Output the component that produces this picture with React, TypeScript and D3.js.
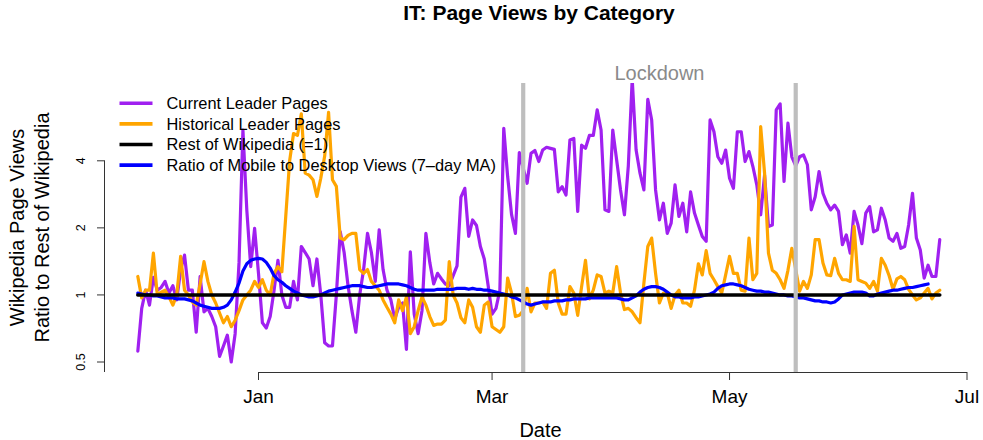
import React from "react";
import * as d3 from "d3";

// ---- data (daily, starting 2019-12-01) ----
const START_DATE = "2019-12-01";

const currentLeaderPages = [
  0.56, 0.87, 1.05, 0.90, 1.20, 1.05, 1.08, 1.15, 1.02, 1.10,
  0.95, 1.30, 1.51, 1.05, 1.05, 0.68, 1.21, 0.84, 0.87, 0.80,
  0.72, 0.53, 0.59, 0.66, 0.50, 0.67, 1.40, 5.50, 2.40, 1.34,
  1.99, 1.25, 0.75, 0.71, 0.80, 1.05, 1.43, 1.00, 0.88, 0.88,
  1.15, 0.95, 1.65, 1.55, 1.45, 1.10, 1.45, 1.00, 0.61, 0.59,
  0.59, 1.00, 1.92, 1.55, 1.10, 0.85, 0.68, 1.00, 1.30, 1.89,
  1.55, 1.15, 1.96, 1.30, 1.05, 0.95, 0.78, 0.88, 0.92, 0.57,
  1.56, 0.82, 0.67, 0.85, 1.89, 1.40, 1.12, 1.25, 1.18, 1.12,
  1.10, 1.22, 1.35, 2.75, 3.01, 1.83, 2.17, 2.05, 1.65, 1.45,
  1.10, 0.82, 0.87, 1.05, 5.60, 3.40, 2.30, 1.89, 4.35, 3.70,
  3.17, 4.32, 4.45, 3.97, 4.47, 4.60, 4.55, 4.50, 2.90, 3.06,
  2.81, 4.96, 5.04, 2.37, 4.70, 4.55, 5.20, 5.20, 6.77, 5.50,
  2.41, 2.37, 5.50, 4.03, 2.96, 2.29, 3.80, 9.30, 4.47, 3.52,
  2.96, 7.55, 6.10, 2.96, 2.17, 2.58, 1.89, 2.10, 3.12, 2.25,
  2.58, 1.92, 2.90, 2.33, 2.06, 1.83, 1.74, 6.10, 5.40, 4.17,
  3.90, 4.47, 3.34, 3.01, 5.40, 5.40, 3.97, 4.40, 3.77, 3.12,
  2.29, 3.45, 2.03, 2.06, 6.77, 7.20, 3.23, 5.90, 4.17, 3.80,
  4.17, 4.25, 3.84, 2.41, 2.76, 3.58, 2.86, 2.58, 2.41, 2.53,
  2.37, 1.68, 1.86, 1.54, 2.37, 2.06, 1.70, 2.33, 2.49, 1.92,
  1.96, 2.45, 2.17, 1.80, 1.74, 1.89, 1.62, 1.65, 2.06, 2.86,
  1.80, 1.59, 1.19, 1.36, 1.21, 1.21, 1.77,
];

const historicalLeaderPages = [
  1.21, 0.97, 1.05, 1.05, 1.54, 1.00, 1.03, 1.05, 0.98, 0.90,
  1.00, 1.49, 1.05, 1.00, 0.93, 0.90, 1.12, 1.41, 1.15, 1.00,
  0.92, 0.83, 0.75, 0.80, 0.72, 0.77, 0.85, 0.95, 1.00, 1.05,
  1.15, 1.08, 1.17, 1.05, 1.00, 1.25, 1.34, 1.27, 2.25, 4.00,
  5.30, 5.20, 6.50, 3.52, 3.45, 3.29, 2.77, 3.34, 4.20, 6.60,
  3.29, 3.07, 1.80, 1.77, 1.85, 1.89, 1.89, 1.30, 1.25, 1.30,
  1.15, 1.10, 1.05, 0.95, 0.88, 0.82, 0.75, 0.95, 0.85, 0.98,
  0.67, 0.72, 0.85, 0.98, 0.90, 0.80, 0.73, 0.74, 0.74, 0.77,
  1.41, 1.00, 0.92, 0.79, 0.75, 0.95, 0.88, 0.72, 0.68, 0.90,
  0.93, 0.72, 0.70, 0.68, 0.72, 1.19, 1.02, 0.80, 0.81, 0.85,
  1.07, 0.84, 0.92, 0.92, 0.93, 0.87, 1.25, 1.29, 0.92, 0.82,
  0.82, 1.09, 1.02, 0.81, 1.09, 1.43, 0.96, 1.05, 1.23, 1.21,
  1.02, 1.04, 1.02, 1.34, 1.02, 0.86, 0.87, 0.84, 0.79, 0.75,
  1.13, 1.65, 1.80, 1.25, 0.92, 1.02, 1.02, 0.87, 1.00, 1.05,
  0.92, 0.92, 0.89, 1.05, 1.38, 1.23, 1.58, 1.25, 1.17, 1.09,
  1.02, 1.23, 1.49, 1.25, 1.25, 1.05, 1.04, 1.80, 1.17, 1.25,
  5.70, 3.52, 1.54, 1.29, 1.25, 1.17, 1.07, 1.29, 1.62, 1.30,
  1.04, 1.15, 1.07, 1.23, 1.77, 1.77, 1.39, 1.23, 1.22, 1.46,
  1.25, 1.17, 1.17, 1.15, 2.03, 1.17, 1.15, 1.13, 1.07, 1.15,
  1.04, 1.46, 1.36, 1.22, 1.06, 1.18, 1.21, 1.17, 1.06, 1.00,
  0.95, 0.97, 1.02, 1.07, 0.96, 1.02, 1.05,
];

const mobileDesktopMA = [
  1.02, 1.01, 1.00, 1.00, 0.99, 0.99, 0.98, 0.97, 0.97, 0.97,
  0.96, 0.96, 0.96, 0.95, 0.94, 0.92, 0.90, 0.89, 0.88, 0.87,
  0.87, 0.87, 0.88, 0.90, 0.95, 1.03, 1.13, 1.28, 1.38, 1.43,
  1.45, 1.46, 1.45, 1.40, 1.32, 1.22, 1.17, 1.14, 1.10, 1.07,
  1.04, 1.02, 1.00, 0.99, 0.98, 0.98, 0.99, 1.00, 1.02, 1.04,
  1.05, 1.06, 1.07, 1.08, 1.09, 1.10, 1.10, 1.10, 1.09, 1.08,
  1.08, 1.09, 1.10, 1.11, 1.12, 1.12, 1.12, 1.12, 1.11, 1.10,
  1.08, 1.06, 1.05, 1.05, 1.05, 1.05, 1.05, 1.06, 1.06, 1.06,
  1.06, 1.06, 1.07, 1.07, 1.07, 1.06, 1.07, 1.06, 1.06, 1.05,
  1.05, 1.04, 1.03, 1.02, 1.01, 1.00, 0.98, 0.97, 0.95, 0.93,
  0.91, 0.90, 0.91, 0.92, 0.93, 0.93, 0.93, 0.94, 0.94, 0.94,
  0.95, 0.95, 0.96, 0.96, 0.96, 0.96, 0.97, 0.97, 0.97, 0.97,
  0.97, 0.97, 0.97, 0.97, 0.96, 0.95, 0.95, 0.97, 0.99, 1.03,
  1.06, 1.08, 1.09, 1.09, 1.08, 1.06, 1.03, 1.00, 0.98, 0.98,
  0.97, 0.97, 0.97, 0.98, 0.98, 0.99, 1.00, 1.01, 1.03, 1.07,
  1.10, 1.11, 1.12, 1.12, 1.11, 1.10, 1.08, 1.06, 1.05, 1.04,
  1.04, 1.03, 1.03, 1.02, 1.01, 1.00, 1.00, 0.99, 0.99, 0.98,
  0.97, 0.97, 0.96, 0.95, 0.94, 0.94, 0.93, 0.93, 0.92, 0.93,
  0.96, 1.00, 1.01, 1.02, 1.03, 1.03, 1.03, 1.02, 0.99, 0.99,
  1.01, 1.02, 1.03, 1.04, 1.05, 1.05, 1.06, 1.07, 1.08, 1.08,
  1.09, 1.10, 1.11, 1.12,
];

const REST_OF_WIKIPEDIA = 1;

const yTickValues = [0.5, 1, 2, 4];
const xTickDates = ["2020-01-01", "2020-03-01", "2020-05-01", "2020-07-01"];
const xTickLabels = ["Jan", "Mar", "May", "Jul"];
const lockdownDates = ["2020-03-09", "2020-05-18"];

const legendLabels = [
  "Current Leader Pages",
  "Historical Leader Pages",
  "Rest of Wikipedia (=1)",
  "Ratio of Mobile to Desktop Views (7\u2013day MA)",
];
const legendColors = ["#A020F0", "#FFA500", "#000000", "#0000FF"];

const FONT = "'Liberation Sans', Arial, Helvetica, sans-serif";

export default function App() {
  const W = 983;
  const H = 440;
  const plot = { left: 105, right: 976, top: 83, bottom: 372 };

  const parse = d3.timeParse("%Y-%m-%d");
  const start = parse(START_DATE) as Date;
  const dayOf = (i: number) => d3.timeDay.offset(start, i);

  const x = d3
    .scaleTime()
    .domain([parse(xTickDates[0]) as Date, parse(xTickDates[3]) as Date])
    .range([258.5, 967]);
  const y = d3.scaleLog().domain([0.5, 4]).range([362, 160.8]);

  const line = d3
    .line<number>()
    .x((_, i) => x(dayOf(i)))
    .y((v) => y(v));

  const lastDay = dayOf(currentLeaderPages.length - 1);
  const restLine = d3
    .line<Date>()
    .x((d) => x(d))
    .y(() => y(REST_OF_WIKIPEDIA));

  const lockX = lockdownDates.map((d) => x(parse(d) as Date));
  const plotMidX = (plot.left + plot.right) / 2;
  const plotMidY = (plot.top + plot.bottom) / 2;

  return (
    <svg
      width={W}
      height={H}
      style={{ position: "absolute", left: 0, top: 0, display: "block", background: "#fff" }}
      fontFamily={FONT}
    >
      <defs>
        <clipPath id="plotclip">
          <rect x={plot.left} y={plot.top} width={plot.right - plot.left} height={plot.bottom - plot.top} />
        </clipPath>
      </defs>

      {/* title */}
      <text x={539} y={20} textAnchor="middle" fontSize={21} fontWeight="bold" fill="#000">
        IT: Page Views by Category
      </text>

      {/* series */}
      <g clipPath="url(#plotclip)" fill="none" strokeLinejoin="round" strokeLinecap="round">
        <path d={line(currentLeaderPages) || ""} stroke={legendColors[0]} strokeWidth={3.2} />
        <path d={line(historicalLeaderPages) || ""} stroke={legendColors[1]} strokeWidth={3.2} />
        <path d={line(mobileDesktopMA) || ""} stroke={legendColors[3]} strokeWidth={3.2} />
        <path d={restLine([start, lastDay]) || ""} stroke={legendColors[2]} strokeWidth={3.6} />
        {lockX.map((lx, i) => (
          <line key={i} x1={lx} x2={lx} y1={plot.top} y2={plot.bottom} stroke="#BEBEBE" strokeWidth={4.2} />
        ))}
      </g>

      <text x={(lockX[0] + lockX[1]) / 2} y={80} textAnchor="middle" fontSize={20} fill="#8a8a8a">
        Lockdown
      </text>

      {/* x axis */}
      <g stroke="#333" strokeWidth={1}>
        <line x1={x(parse(xTickDates[0]) as Date)} x2={x(parse(xTickDates[3]) as Date)} y1={plot.bottom + 0.5} y2={plot.bottom + 0.5} />
        {xTickDates.map((d, i) => (
          <line key={i} x1={x(parse(d) as Date)} x2={x(parse(d) as Date)} y1={plot.bottom} y2={plot.bottom + 8} />
        ))}
      </g>
      {xTickDates.map((d, i) => (
        <text key={i} x={x(parse(d) as Date)} y={403} textAnchor="middle" fontSize={19} fill="#000">
          {xTickLabels[i]}
        </text>
      ))}
      <text x={plotMidX} y={437} textAnchor="middle" fontSize={20} fill="#000">
        Date
      </text>

      {/* y axis */}
      <g stroke="#333" strokeWidth={1}>
        <line x1={plot.left - 0.5} x2={plot.left - 0.5} y1={y(4)} y2={plot.bottom} />
        {yTickValues.map((v, i) => (
          <line key={i} x1={plot.left - 8} x2={plot.left} y1={y(v)} y2={y(v)} />
        ))}
      </g>
      {yTickValues.map((v, i) => (
        <text
          key={i}
          transform={`translate(${85},${y(v)}) rotate(-90)`}
          textAnchor="middle"
          fontSize={12.5}
          fill="#000"
        >
          {String(v)}
        </text>
      ))}
      <text transform={`translate(24,${plotMidY}) rotate(-90)`} textAnchor="middle" fontSize={20} fill="#000">
        Wikipedia Page Views
      </text>
      <text transform={`translate(49,${plotMidY}) rotate(-90)`} textAnchor="middle" fontSize={20} fill="#000">
        Ratio to Rest of Wikipedia
      </text>

      {/* legend */}
      {legendLabels.map((lab, i) => {
        const ly = 103.3 + i * 20.6;
        return (
          <g key={i}>
            <line x1={119.5} x2={152.5} y1={ly} y2={ly} stroke={legendColors[i]} strokeWidth={3.6} />
            <text x={166.5} y={ly + 5.8} fontSize={16.4} fill="#000">
              {lab}
            </text>
          </g>
        );
      })}
    </svg>
  );
}
